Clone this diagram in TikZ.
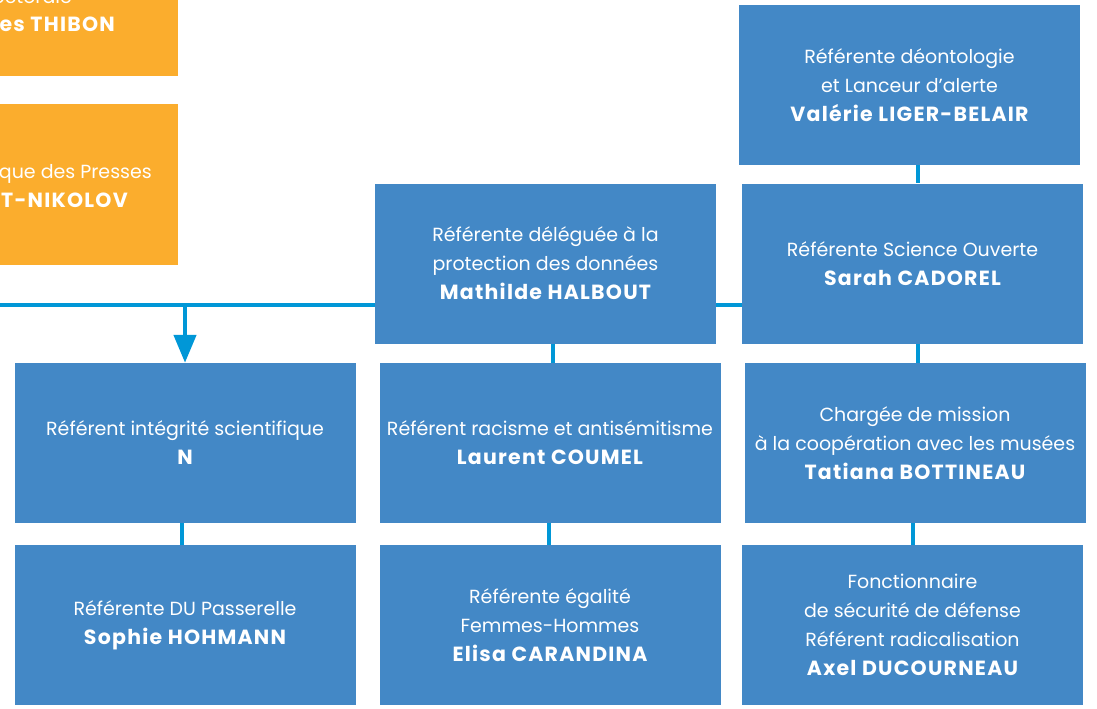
\documentclass[tikz,border=0pt]{standalone}
\usepackage{fontspec}
\setmainfont{Poppins}
\usepackage{tikz}
\usetikzlibrary{arrows.meta,positioning}

\definecolor{boxblue}{HTML}{4388C6}
\definecolor{lineblue}{HTML}{0097D7}
\definecolor{boxorange}{HTML}{FBAD2D}

\newcommand{\nm}[1]{{\fontsize{20.5}{29}\bfseries\addfontfeature{LetterSpace=6}#1}}

\begin{document}
\begin{tikzpicture}[
    x=1pt, y=-1pt,
    box/.style={rectangle, fill=boxblue, text=white, minimum width=341pt, minimum height=160pt, inner sep=0pt, align=center, font=\fontsize{19}{29}\selectfont},
    obox/.style={rectangle, fill=boxorange, minimum width=260pt, inner sep=0pt},
    otext/.style={text=white, inner sep=0pt, font=\fontsize{19}{29}\selectfont},
    link/.style={draw=lineblue, line width=4.5pt},
    arrow/.style={link, -{Triangle[width=22pt,length=28pt]}}
]
    \useasboundingbox (0,0) rectangle (1097,709);

    % Orange boxes (cut at the left)
    \node[obox, minimum height=116pt] (thibonbox) at (48,18) {};
    \node[obox, minimum height=161pt] (pressesbox) at (48,184.5) {};
    \node[otext, anchor=base east] (thibon1) at (72,4) {octorale};
    \node[otext, anchor=base east] (thibon2) at (115,32) {\nm{es THIBON}};
    \node[otext, anchor=base east] (presses1) at (152,178) {que des Presses};
    \node[otext, anchor=base east] (presses2) at (128,207) {\nm{AT-NIKOLOV}};

    % Blue boxes
    \node[box] (valerie) at (909.5,85) {Référente déontologie\\et Lanceur d'alerte\\\nm{Valérie LIGER-BELAIR}};
    \node[box] (halbout) at (545.5,263.5) {Référente déléguée à la\\protection des données\\\nm{Mathilde HALBOUT}};
    \node[box] (sarah) at (912.5,263.5) {Référente Science Ouverte\\\nm{Sarah CADOREL}};
    \node[box] (integrite) at (185,443) {Référent intégrité scientifique\\\nm{N}};
    \node[box] (racisme) at (550,443) {Référent racisme et antisémitisme\\\nm{Laurent COUMEL}};
    \node[box] (chargee) at (915,443) {Chargée de mission\\à la coopération avec les musées\\\nm{Tatiana BOTTINEAU}};
    \node[box] (passerelle) at (185,625) {Référente DU Passerelle\\\nm{Sophie HOHMANN}};
    \node[box] (egalite) at (550,625) {Référente égalité\\Femmes-Hommes\\\nm{Elisa CARANDINA}};
    \node[box] (defense) at (912.5,625) {Fonctionnaire\\de sécurité de défense\\Référent radicalisation\\\nm{Axel DUCOURNEAU}};

    % Horizontal line
    \coordinate (lstart) at (0,305);
    \draw[link] (lstart) -- (lstart -| halbout.west);
    \draw[link] (lstart -| halbout.east) -- (lstart -| sarah.west);
    \draw[arrow] (lstart -| integrite.north) -- (integrite.north);

    % Vertical links
    \draw[link] (valerie.south -| 918,0) -- (sarah.north -| 918,0);
    \draw[link] (sarah.south -| 918,0) -- (chargee.north -| 918,0);
    \draw[link] (halbout.south -| 553,0) -- (racisme.north -| 553,0);
    \draw[link] (integrite.south -| 182,0) -- (passerelle.north -| 182,0);
    \draw[link] (racisme.south -| 549,0) -- (egalite.north -| 549,0);
    \draw[link] (chargee.south -| 913,0) -- (defense.north -| 913,0);
\end{tikzpicture}
\end{document}
